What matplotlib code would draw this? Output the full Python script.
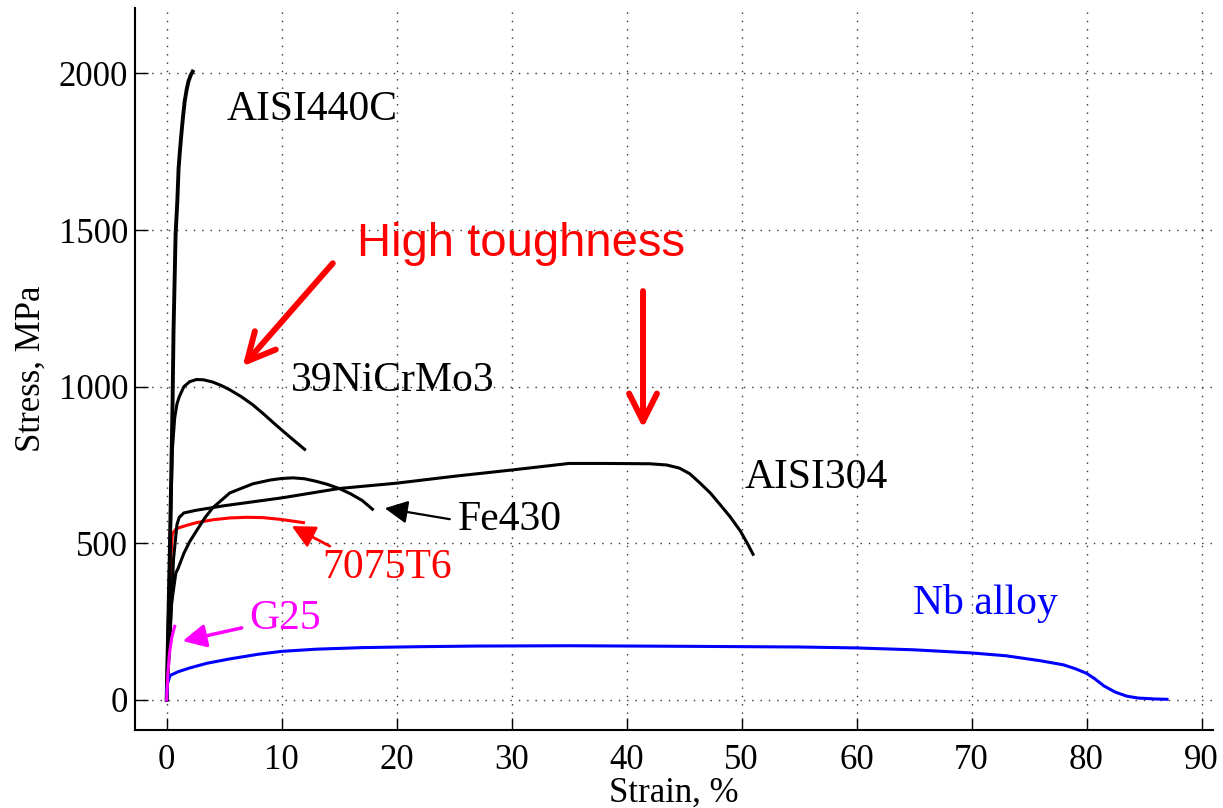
import matplotlib
matplotlib.use("Agg")
import matplotlib.pyplot as plt

plt.rcParams['font.family'] = ['Liberation Serif', 'DejaVu Serif']

# ---- data (strain %, stress MPa) ----
aisi440c_x = [0, 0.26, 0.52, 0.6, 0.78, 0.93, 1.04, 1.15, 1.28, 1.42, 1.57, 1.75, 1.9, 2.1, 2.26]
aisi440c_y = [0, 434, 954, 1177, 1486, 1592, 1697, 1750, 1805, 1860, 1911, 1950, 1975, 1995, 2006]

nicrmo_x = [0, 0.3, 0.5, 0.7, 0.9, 1.1, 1.5, 2.0, 2.6, 3.2, 4.0, 4.8, 5.5, 6.5, 7.5, 8.4, 9.5, 10.7, 12.0]
nicrmo_y = [0, 500, 800, 900, 945, 968, 1000, 1016, 1023, 1022, 1015, 1003, 990, 968, 942, 914, 878, 840, 800]

aisi304_x = [0, 0.3, 0.6, 0.9, 1.1, 1.5, 2.5, 5, 10, 15, 20, 25, 30, 35, 38, 42, 43.5, 44.6, 45.5, 46.4, 47.3, 48.1, 49.0, 49.9, 50.5, 51.0]
aisi304_y = [0, 200, 450, 560, 583, 597, 605, 620, 645, 675, 692, 714, 734, 755, 755, 754, 750, 740, 722, 692, 660, 625, 585, 539, 500, 465]

fe430_x = [0, 0.4, 0.8, 1.0, 1.5, 2.0, 2.6, 3.3, 4.0, 5.5, 7.5, 9.0, 10.0, 11.0, 12.0, 13.0, 14.0, 15.0, 16.0, 17.0, 17.9]
fe430_y = [0, 300, 405, 420, 468, 505, 540, 580, 613, 661, 690, 702, 707, 709, 706, 698, 688, 675, 658, 637, 609]

t7075_x = [0, 0.2, 0.35, 0.5, 0.8, 1.1, 1.8, 2.6, 4.0, 5.5, 7.0, 8.4, 10.0, 11.9]
t7075_y = [0, 250, 450, 530, 545, 550, 558, 566, 575, 581, 583, 582, 576, 566]

g25_x = [0, 0.1, 0.25, 0.45, 0.7]
g25_y = [0, 80, 150, 200, 235]

nb_x = [0, 0.05, 0.3, 1, 2, 3.5, 5.5, 8, 10, 13, 17, 22, 27, 35, 46, 55, 60, 65, 70, 73, 76, 78, 79, 80, 80.7, 81.5, 82.5, 83.5, 84.5, 86, 87]
nb_y = [0, 50, 78, 90, 102, 117, 131, 146, 155, 162, 167, 170, 172, 173, 171, 169, 166, 160, 150, 141, 125, 112, 100, 85, 68, 45, 25, 12, 6, 3, 2]

x_ticks = [0, 10, 20, 30, 40, 50, 60, 70, 80, 90]
y_ticks = [0, 500, 1000, 1500, 2000]

# ---- figure ----
fig = plt.figure(figsize=(12.23, 8.08), dpi=100)
ax = fig.add_axes([135 / 1223, 78 / 808, 1078 / 1223, 722 / 808])

lw = 2.2
ax.plot(t7075_x, t7075_y, color='red', lw=lw, zorder=3)
ax.plot(aisi440c_x, aisi440c_y, color='black', lw=lw + 0.6, zorder=4)
ax.plot(nicrmo_x, nicrmo_y, color='black', lw=lw, zorder=4)
ax.plot(aisi304_x, aisi304_y, color='black', lw=lw, zorder=4)
ax.plot(fe430_x, fe430_y, color='black', lw=lw, zorder=4)
ax.plot(nb_x, nb_y, color='blue', lw=lw, zorder=5)
ax.plot(g25_x, g25_y, color='magenta', lw=lw, zorder=6)

ax.set_xlim(-2.75, 91)
ax.set_ylim(-96, 2209)
ax.set_xticks(x_ticks)
ax.set_yticks(y_ticks)

ax.grid(True, linestyle=(0, (1, 5)), color='0.2', lw=1.0)
ax.set_axisbelow(True)
for s in ['top', 'right']:
    ax.spines[s].set_visible(False)
for s in ['left', 'bottom']:
    ax.spines[s].set_linewidth(1.5)

ax.tick_params(axis='both', direction='in', length=9, width=1.0, labelsize=25)
ax.tick_params(axis='x', pad=10)
ax.tick_params(axis='y', pad=5)

ax.set_xlabel('Strain, %', fontsize=25, labelpad=0)
ax.set_ylabel('Stress, MPa', fontsize=25, labelpad=8)

# ---- labels ----
tsize = 30
ax.text(5.2, 1853, 'AISI440C', fontsize=tsize, color='black', va='baseline')
ax.text(10.85, 986, '39NiCrMo3', fontsize=tsize, color='black', va='baseline')
ax.text(50.3, 677, 'AISI304', fontsize=tsize, color='black', va='baseline')
ax.text(25.3, 542, 'Fe430', fontsize=tsize, color='black', va='baseline')
ax.text(13.5, 389, '7075T6', fontsize=tsize, color='red', va='baseline')
ax.text(7.2, 226, 'G25', fontsize=tsize, color='magenta', va='baseline')
ax.text(64.9, 274, 'Nb alloy', fontsize=tsize, color='blue', va='baseline')
ax.text(16.6, 1416, 'High toughness', fontsize=34, color='red', va='baseline',
        family=['Liberation Sans', 'DejaVu Sans'])

# ---- arrows ----
red_big = dict(arrowstyle='->,head_length=1.0,head_width=0.5', color='red', lw=4.3,
               mutation_scale=20, shrinkA=0, shrinkB=0, capstyle='round', joinstyle='round')
ax.annotate('', xy=(6.61, 1065), xytext=(14.45, 1394), arrowprops=red_big)
ax.annotate('', xy=(41.43, 868), xytext=(41.43, 1305), arrowprops=red_big)

def small_arrow(color, lw_):
    return dict(arrowstyle='-|>,head_length=1.0,head_width=0.5', color=color, lw=lw_,
                mutation_scale=14, shrinkA=0, shrinkB=0)

ax.annotate('', xy=(18.97, 612), xytext=(24.63, 577), arrowprops=small_arrow('black', 1.6))
ax.annotate('', xy=(10.88, 555), xytext=(14.19, 491), arrowprops=small_arrow('red', 2.0))
ax.annotate('', xy=(1.39, 188), xytext=(6.53, 230), arrowprops=small_arrow('magenta', 2.5))

fig.savefig('out.png', dpi=100)
